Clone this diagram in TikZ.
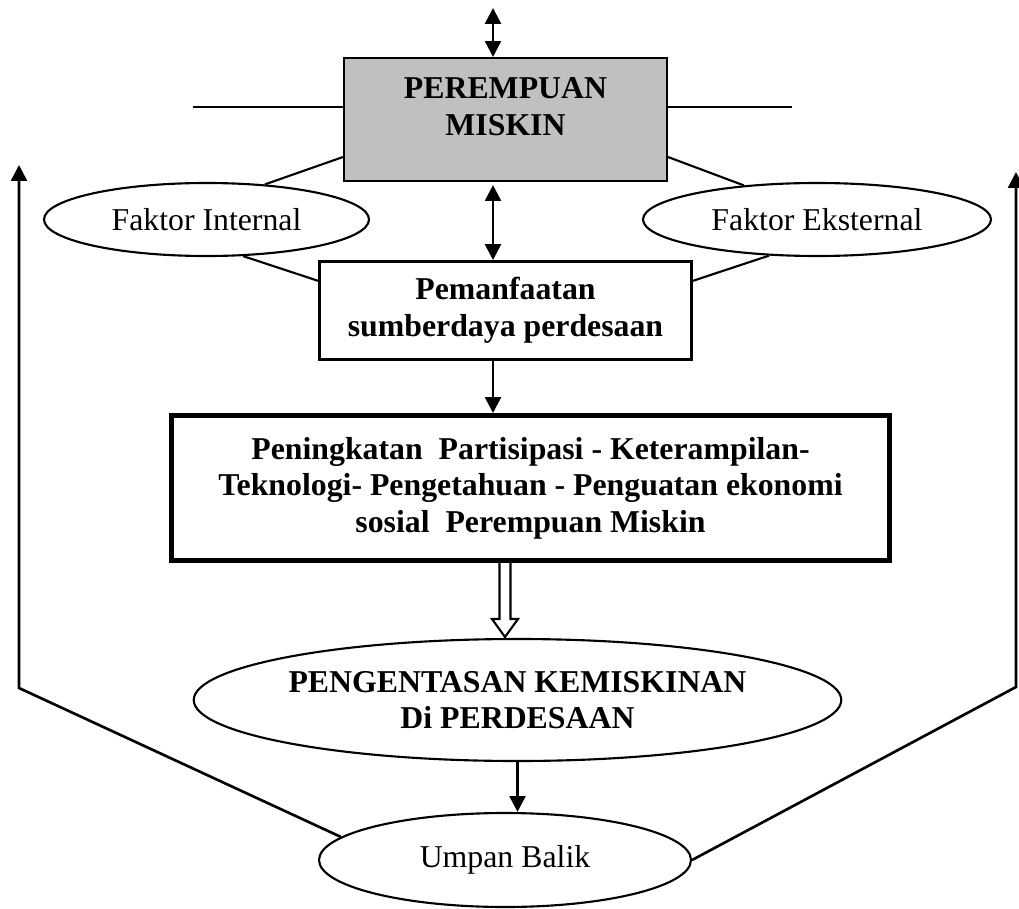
\documentclass[tikz,border=0pt]{standalone}
\usepackage{fontspec}
\setmainfont{Liberation Serif}
\usepackage{xcolor}
\usepackage{tikz}
\usetikzlibrary{shapes,arrows.meta,calc}
\def\pxu{0.3774pt}
\definecolor{abu}{RGB}{192,192,192}
\tikzstyle{teks}=[font=\fontsize{12}{13.8}\selectfont,align=center,inner sep=0pt]
\tikzstyle{tebal}+=[teks,font=\fontsize{12}{13.8}\selectfont\bfseries]
\tikzstyle{graybox}=[tebal,draw,fill=abu,line width=0.8pt,minimum width=323*\pxu,minimum height=123*\pxu]
\tikzstyle{plainbox}=[tebal,draw,line width=1.1pt,minimum width=372*\pxu,minimum height=98*\pxu]
\tikzstyle{thickbox}=[tebal,draw,line width=1.9pt,minimum width=718*\pxu,minimum height=145*\pxu]
\tikzstyle{oval}=[teks,draw,ellipse,line width=0.8pt]
\tikzstyle{ln}=[line width=0.8pt]
\tikzstyle{arr}=[line width=1pt,-{Triangle[length=6pt,width=6pt]}]
\tikzstyle{dbl}=[line width=1pt,{Triangle[length=6pt,width=6pt]}-{Triangle[length=6pt,width=6pt]}]
\begin{document}
\begin{tikzpicture}[x=\pxu,y=-\pxu]
    \useasboundingbox (0,0) rectangle (1019,909);
    \node[graybox] (pm) at (505.5,119.5) {PEREMPUAN\\MISKIN\\[-3.8pt]\mbox{}};
    \node[oval,minimum width=325*\pxu,minimum height=73*\pxu] (fi) at (206.5,219.5) {Faktor Internal};
    \node[oval,minimum width=348*\pxu,minimum height=73*\pxu] (fe) at (817,219.5) {Faktor Eksternal};
    \node[plainbox] (pem) at (505.5,310.5) {Pemanfaatan\\sumberdaya perdesaan};
    \node[thickbox] (big) at (530.5,488) {Peningkatan\ \ Partisipasi - Keterampilan-\\Teknologi- Pengetahuan - Penguatan ekonomi\\sosial\ \ Perempuan Miskin};
    \node[oval,tebal,minimum width=647*\pxu,minimum height=122*\pxu] (peng) at (517.5,700) {PENGENTASAN KEMISKINAN\\Di PERDESAAN};
    \node[oval,minimum width=372*\pxu,minimum height=94*\pxu] (umpan) at (505,860) {Umpan Balik};
    \coordinate (atas) at (493,8);
    \coordinate (garisL) at (193,107);
    \coordinate (garisR) at (792,107);
    \coordinate (hol) at (505,563);
    \coordinate (kiri) at (19,165);
    \coordinate (kiribawah) at (19,688);
    \coordinate (kanan) at (1016,172);
    \coordinate (kananbawah) at (1016,687);
    \draw[dbl] (atas) -- (atas |- pm.north);
    \draw[ln] (garisL) -- (garisL -| pm.west);
    \draw[ln] (pm.east |- garisR) -- (garisR);
    \draw[ln] (pm.193) -- (fi.31);
    \draw[ln] (pm.347) -- (fe.155);
    \draw[ln] (fi.315) -- (pem.171);
    \draw[ln] (fe.217) -- (pem.9);
    \draw[dbl] ($(atas |- pm.south)+(0,3)$) -- (atas |- pem.north);
    \draw[arr] (atas |- pem.south) -- (atas |- big.north);
    \draw[ln,fill=white] ($(hol)+(-5.5,0)$) -- ($(hol)+(-5.5,56)$) -- ($(hol)+(-13,56)$) -- ($(hol)+(0,74)$) -- ($(hol)+(13,56)$) -- ($(hol)+(5.5,56)$) -- ($(hol)+(5.5,0)$);
    \draw[arr] (peng.south) -- (peng.south |- umpan.north);
    \draw[arr] (umpan.172) -- (kiribawah) -- (kiri);
    \draw[arr] (umpan.east) -- (kananbawah) -- (kanan);
  \end{tikzpicture}
\end{document}
